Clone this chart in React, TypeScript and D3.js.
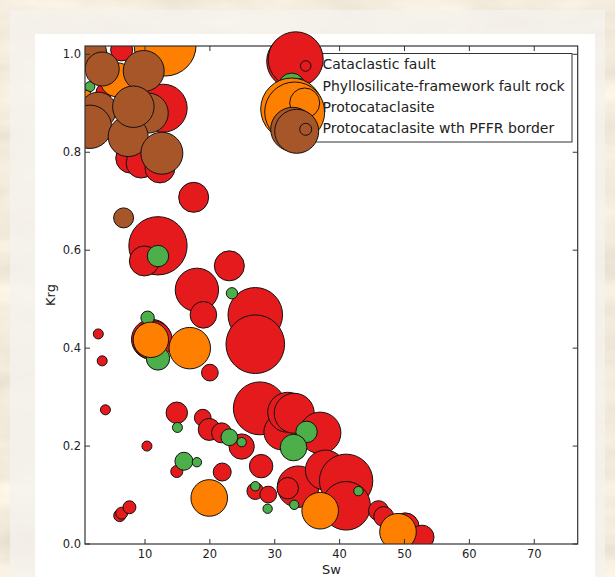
import React, { useEffect, useRef } from "react";
import * as d3 from "d3";

// Cataclastic fault
const cataSw = [17.5, 12.0, 9.9, 23.0, 18.0, 19.0, 27.0, 27.0, 11.0, 11.2, 20.0, 2.8, 3.4, 3.9, 10.3, 6.1, 6.4, 7.6, 14.9, 18.9, 19.9, 21.8, 24.9, 14.9, 21.9, 27.9, 27.0, 29.0, 27.7, 31.1, 32.0, 33.0, 37.0, 33.6, 32.0, 37.8, 41.0, 41.0, 46.0, 46.8, 50.1, 52.7, 6.4, 12.8, 3.7, 7.8, 9.4, 12.3];
const cataKrg = [0.708, 0.609, 0.578, 0.568, 0.519, 0.468, 0.468, 0.408, 0.418, 0.416, 0.35, 0.429, 0.374, 0.274, 0.2, 0.058, 0.063, 0.075, 0.268, 0.258, 0.234, 0.227, 0.199, 0.148, 0.147, 0.159, 0.108, 0.101, 0.277, 0.229, 0.269, 0.267, 0.227, 0.117, 0.114, 0.151, 0.129, 0.078, 0.068, 0.056, 0.035, 0.014, 1.009, 0.89, 0.923, 0.788, 0.778, 0.768];
const cataSize = [225, 850, 225, 225, 470, 177, 745, 860, 400, 380, 70, 25, 25, 25, 25, 36, 36, 42, 115, 70, 121, 100, 160, 36, 81, 137, 70, 70, 700, 324, 400, 400, 430, 430, 115, 400, 713, 590, 100, 100, 196, 144, 121, 576, 64, 225, 225, 225];

// Phyllosilicate-framework fault rock
const pffrSw = [12.0, 23.4, 10.4, 12.0, 15.0, 23.0, 24.9, 16.0, 18.0, 27.0, 28.9, 34.9, 32.9, 33.0, 42.9, 1.5];
const pffrKrg = [0.588, 0.512, 0.462, 0.379, 0.238, 0.218, 0.208, 0.169, 0.167, 0.118, 0.072, 0.229, 0.197, 0.08, 0.108, 0.934];
const pffrSize = [115, 32, 45, 137, 25, 70, 22, 81, 22, 22, 22, 115, 177, 22, 22, 25];

// Protocataclasite
const protoSw = [13.1, 5.7, 0.6, 10.9, 16.9, 19.9, 37.0, 49.0];
const protoKrg = [1.019, 0.948, 0.907, 0.417, 0.4, 0.094, 0.068, 0.025];
const protoSize = [961, 289, 100, 313, 430, 335, 335, 335];

// Protocataclasite wth PFFR border
const borderSw = [1.8, 3.4, 9.8, 2.8, 1.5, 10.5, 7.4, 8.2, 12.6, 6.7];
const borderKrg = [1.003, 0.97, 0.966, 0.886, 0.852, 0.88, 0.832, 0.893, 0.798, 0.666];
const borderSize = [225, 289, 420, 324, 470, 400, 400, 430, 441, 100];

const xTicks = [10, 20, 30, 40, 50, 60, 70];
const yTicks = [0.0, 0.2, 0.4, 0.6, 0.8, 1.0];

const series = [
  { label: "Cataclastic fault", color: "#e41a1c", sw: cataSw, krg: cataKrg, size: cataSize },
  { label: "Phyllosilicate-framework fault rock", color: "#4daf4a", sw: pffrSw, krg: pffrKrg, size: pffrSize },
  { label: "Protocataclasite", color: "#ff7f00", sw: protoSw, krg: protoKrg, size: protoSize },
  { label: "Protocataclasite wth PFFR border", color: "#a65628", sw: borderSw, krg: borderKrg, size: borderSize },
];

// legend handle circles (dx, dy from row, radius px) - big markers spill out like the original
const legendHandles = [
  [[-12, -3, 27], [-10, -5, 27.5], [0, 1.7, 5.3]],
  [[-14, 1, 13.5], [-6, 1, 8], [0, 1.5, 4.7]],
  [[-14, 2, 31], [-11, 5, 30], [-1, -4, 15]],
  [[-13, 1, 22], [-9, 3, 22], [0, 1, 6]],
];

const W = 615, H = 577;
const font = "'DejaVu Sans', sans-serif";

export default function App() {
  const svgRef = useRef<SVGSVGElement>(null);

  useEffect(() => {
    const svg = d3.select(svgRef.current);
    svg.selectAll("*").remove();

    const left = 85, right = 577.7, top = 46, bottom = 544;

    const x = d3.scaleLinear().domain([0.75, 76.7]).range([left, right]);
    const y = d3.scaleLinear().domain([0, 1.017]).range([bottom, top]);
    const r = d3.scaleSqrt().domain([0, 1000]).range([0, 31.62]);

    const defs = svg.append("defs");
    const f = defs.append("filter").attr("id", "marble").attr("x", 0).attr("y", 0).attr("width", 1).attr("height", 1);
    f.append("feTurbulence").attr("type", "fractalNoise").attr("baseFrequency", "0.008 0.025").attr("numOctaves", 4).attr("seed", 7);
    f.append("feColorMatrix").attr("type", "matrix")
      .attr("values", "0.35 0 0 0 0.72  0.35 0 0 0 0.66  0.35 0 0 0 0.55  0 0 0 0 1");
    defs.append("clipPath").attr("id", "axclip")
      .append("rect").attr("x", left).attr("y", top).attr("width", right - left).attr("height", bottom - top);

    // page backdrop
    svg.append("rect").attr("width", W).attr("height", H).attr("fill", "#e9ddc8");
    svg.append("rect").attr("width", W).attr("height", H).attr("filter", "url(#marble)");
    svg.append("rect").attr("x", 10).attr("y", 10).attr("width", 595).attr("height", H - 10)
      .attr("fill", "#f5f2ed").attr("opacity", 0.8);
    svg.append("rect").attr("x", 35).attr("y", 34).attr("width", 560).attr("height", H - 34).attr("fill", "#ffffff");

    // scatter
    const plot = svg.append("g").attr("clip-path", "url(#axclip)");
    series.forEach((s) => {
      plot.append("g")
        .selectAll("circle")
        .data(s.sw.map((v, i) => ({ sw: v, krg: s.krg[i], size: s.size[i] })))
        .enter()
        .append("circle")
        .attr("cx", (d) => x(d.sw))
        .attr("cy", (d) => y(d.krg))
        .attr("r", (d) => r(d.size))
        .attr("fill", s.color)
        .attr("stroke", "#111")
        .attr("stroke-width", 1);
    });

    // spines
    svg.append("rect").attr("x", left).attr("y", top).attr("width", right - left).attr("height", bottom - top)
      .attr("fill", "none").attr("stroke", "#333").attr("stroke-width", 1.2);

    // ticks (inside, all four sides)
    const tk = svg.append("g").attr("stroke", "#333").attr("stroke-width", 1);
    xTicks.forEach((t) => {
      tk.append("line").attr("x1", x(t)).attr("x2", x(t)).attr("y1", bottom).attr("y2", bottom - 5);
      tk.append("line").attr("x1", x(t)).attr("x2", x(t)).attr("y1", top).attr("y2", top + 5);
    });
    yTicks.forEach((t) => {
      tk.append("line").attr("x1", left).attr("x2", left + 5).attr("y1", y(t)).attr("y2", y(t));
      tk.append("line").attr("x1", right).attr("x2", right - 5).attr("y1", y(t)).attr("y2", y(t));
    });

    svg.append("g").selectAll("text").data(xTicks).enter().append("text")
      .attr("x", (d) => x(d)).attr("y", 558).attr("text-anchor", "middle")
      .attr("font-family", font).attr("font-size", 11.5).attr("fill", "#222")
      .text((d) => String(d));
    svg.append("g").selectAll("text").data(yTicks).enter().append("text")
      .attr("x", 81).attr("y", (d) => y(d) + 4).attr("text-anchor", "end")
      .attr("font-family", font).attr("font-size", 11.5).attr("fill", "#222")
      .text((d) => d3.format(".1f")(d));

    svg.append("text").attr("x", (left + right) / 2).attr("y", 574).attr("text-anchor", "middle")
      .attr("font-family", font).attr("font-size", 13).attr("fill", "#222").text("Sw");
    svg.append("text").attr("transform", `translate(55,${(top + bottom) / 2}) rotate(-90)`)
      .attr("text-anchor", "middle").attr("font-family", font).attr("font-size", 13).attr("fill", "#222").text("Krg");

    // legend
    const lg = svg.append("g");
    const rowY = [64.3, 85.6, 107, 128.3];
    lg.append("rect").attr("x", 284).attr("y", 53.5).attr("width", 572 - 284).attr("height", 142 - 53.5)
      .attr("fill", "#fff").attr("stroke", "#333").attr("stroke-width", 1);
    series.forEach((s, i) => {
      legendHandles[i].forEach(([dx, dy, rr]) => {
        lg.append("circle").attr("cx", 305.7 + dx).attr("cy", rowY[i] + dy).attr("r", rr)
          .attr("fill", s.color).attr("stroke", "#111").attr("stroke-width", 1);
      });
    });
    series.forEach((s, i) => {
      lg.append("text").attr("x", 322.5).attr("y", rowY[i] + 5)
        .attr("font-family", font).attr("font-size", 14).attr("fill", "#222").text(s.label);
    });
  }, []);

  return (
    <svg ref={svgRef} width={W} height={H} style={{ position: "absolute", left: 0, top: 0 }}></svg>
  );
}
